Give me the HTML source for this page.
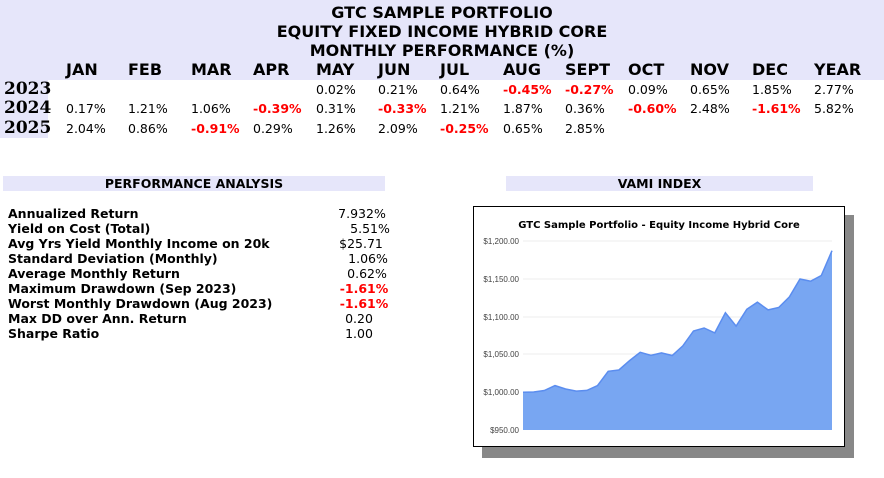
<!DOCTYPE html>
<html><head><meta charset="utf-8"><style>
body{margin:0;width:884px;height:478px;background:#fff;position:relative;overflow:hidden;font-family:"DejaVu Sans",Verdana,sans-serif;color:#000}
.a{position:absolute;white-space:nowrap}
.h{font-weight:bold;font-size:16px}
.v{font-size:12.5px}
.r{color:#f00;font-weight:bold}
.y{font-family:"DejaVu Serif","Liberation Serif",serif;font-weight:bold;font-size:17px}
.l{font-weight:bold;font-size:12.5px;left:8px}
.s{font-size:12.5px;width:80px;text-align:center;left:325px}
</style></head><body>
<div class="a" style="left:0;top:0;width:884px;height:80px;background:#e6e6fa"></div>
<div class="a" style="left:0;top:80px;width:48px;height:58px;background:#e6e6fa"></div>
<div class="a h" style="left:0;width:884px;text-align:center;top:3px">GTC SAMPLE PORTFOLIO</div>
<div class="a h" style="left:0;width:884px;text-align:center;top:22px">EQUITY FIXED INCOME HYBRID CORE</div>
<div class="a h" style="left:0;width:884px;text-align:center;top:41px">MONTHLY PERFORMANCE (%)</div>
<div class="a h" style="left:66px;top:60px">JAN</div>
<div class="a h" style="left:128px;top:60px">FEB</div>
<div class="a h" style="left:191px;top:60px">MAR</div>
<div class="a h" style="left:253px;top:60px">APR</div>
<div class="a h" style="left:316px;top:60px">MAY</div>
<div class="a h" style="left:378px;top:60px">JUN</div>
<div class="a h" style="left:440px;top:60px">JUL</div>
<div class="a h" style="left:503px;top:60px">AUG</div>
<div class="a h" style="left:565px;top:60px">SEPT</div>
<div class="a h" style="left:628px;top:60px">OCT</div>
<div class="a h" style="left:690px;top:60px">NOV</div>
<div class="a h" style="left:752px;top:60px">DEC</div>
<div class="a h" style="left:814px;top:60px">YEAR</div>

<div class="a y" style="left:4px;top:79px">2023</div>
<div class="a y" style="left:4px;top:98px">2024</div>
<div class="a y" style="left:4px;top:118px">2025</div>

<div class="a v" style="left:316px;top:82px">0.02%</div>
<div class="a v" style="left:378px;top:82px">0.21%</div>
<div class="a v" style="left:440px;top:82px">0.64%</div>
<div class="a v r" style="left:503px;top:82px">-0.45%</div>
<div class="a v r" style="left:565px;top:82px">-0.27%</div>
<div class="a v" style="left:628px;top:82px">0.09%</div>
<div class="a v" style="left:690px;top:82px">0.65%</div>
<div class="a v" style="left:752px;top:82px">1.85%</div>
<div class="a v" style="left:814px;top:82px">2.77%</div>

<div class="a v" style="left:66px;top:101px">0.17%</div>
<div class="a v" style="left:128px;top:101px">1.21%</div>
<div class="a v" style="left:191px;top:101px">1.06%</div>
<div class="a v r" style="left:253px;top:101px">-0.39%</div>
<div class="a v" style="left:316px;top:101px">0.31%</div>
<div class="a v r" style="left:378px;top:101px">-0.33%</div>
<div class="a v" style="left:440px;top:101px">1.21%</div>
<div class="a v" style="left:503px;top:101px">1.87%</div>
<div class="a v" style="left:565px;top:101px">0.36%</div>
<div class="a v r" style="left:628px;top:101px">-0.60%</div>
<div class="a v" style="left:690px;top:101px">2.48%</div>
<div class="a v r" style="left:752px;top:101px">-1.61%</div>
<div class="a v" style="left:814px;top:101px">5.82%</div>

<div class="a v" style="left:66px;top:121px">2.04%</div>
<div class="a v" style="left:128px;top:121px">0.86%</div>
<div class="a v r" style="left:191px;top:121px">-0.91%</div>
<div class="a v" style="left:253px;top:121px">0.29%</div>
<div class="a v" style="left:316px;top:121px">1.26%</div>
<div class="a v" style="left:378px;top:121px">2.09%</div>
<div class="a v r" style="left:440px;top:121px">-0.25%</div>
<div class="a v" style="left:503px;top:121px">0.65%</div>
<div class="a v" style="left:565px;top:121px">2.85%</div>

<div class="a" style="left:3px;top:176px;width:382px;height:15px;background:#e6e6fa;font-weight:bold;font-size:12.5px;text-align:center;line-height:15px">PERFORMANCE ANALYSIS</div>
<div class="a" style="left:506px;top:176px;width:307px;height:15px;background:#e6e6fa;font-weight:bold;font-size:12.5px;text-align:center;line-height:15px">VAMI INDEX</div>

<div class="a l" style="top:206px">Annualized Return</div><div class="a s" style="top:206px;left:322px">7.932%</div>
<div class="a l" style="top:221px">Yield on Cost (Total)</div><div class="a s" style="top:221px;left:330px">5.51%</div>
<div class="a l" style="top:236px">Avg Yrs Yield Monthly Income on 20k</div><div class="a s" style="top:236px;left:321px">$25.71</div>
<div class="a l" style="top:251px">Standard Deviation (Monthly)</div><div class="a s" style="top:251px;left:328px">1.06%</div>
<div class="a l" style="top:266px">Average Monthly Return</div><div class="a s" style="top:266px;left:327px">0.62%</div>
<div class="a l" style="top:281px">Maximum Drawdown (Sep 2023)</div><div class="a s r" style="top:281px;left:324px">-1.61%</div>
<div class="a l" style="top:296px">Worst Monthly Drawdown (Aug 2023)</div><div class="a s r" style="top:296px;left:324px">-1.61%</div>
<div class="a l" style="top:311px">Max DD over Ann. Return</div><div class="a s" style="top:311px;left:319px">0.20</div>
<div class="a l" style="top:326px">Sharpe Ratio</div><div class="a s" style="top:326px;left:319px">1.00</div>

<div class="a" style="left:482px;top:215px;width:372px;height:243px;background:#888"></div>
<svg class="a" style="left:0;top:0" width="884" height="478">
<rect x="473.5" y="206.5" width="371" height="240" fill="#fff" stroke="#000" stroke-width="1"/>
<text x="659" y="228" text-anchor="middle" font-family="DejaVu Sans,sans-serif" font-weight="bold" font-size="10">GTC Sample Portfolio - Equity Income Hybrid Core</text>
<g stroke="#eee" stroke-width="1">
<line x1="523" x2="832" y1="241" y2="241"/><line x1="523" x2="832" y1="279" y2="279"/><line x1="523" x2="832" y1="317" y2="317"/><line x1="523" x2="832" y1="354" y2="354"/><line x1="523" x2="832" y1="392" y2="392"/>
</g>
<g font-family="Liberation Sans,sans-serif" font-size="8" fill="#444" text-anchor="end">
<text x="519" y="244">$1,200.00</text><text x="519" y="282">$1,150.00</text><text x="519" y="320">$1,100.00</text><text x="519" y="357">$1,050.00</text><text x="519" y="395">$1,000.00</text><text x="519" y="433">$950.00</text>
</g>
<polygon fill="#78a6f2" points="523,430 523,392.2 533.7,392 544.3,390.5 555,385.6 565.6,389 576.3,391.1 586.9,390.4 597.6,385.5 608.2,371.3 618.9,370 629.6,360.6 640.2,352.3 650.9,355.4 661.5,352.9 672.2,355.5 682.8,345.9 693.5,331 704.1,328 714.8,332.9 725.4,312.7 736.1,326.1 746.8,309.3 757.4,302.2 768.1,309.9 778.7,307.5 789.4,296.9 800,279 810.7,281.2 821.3,275.5 832,250.7 832,430"/>
<polyline fill="none" stroke="#5b8def" stroke-width="1.5" points="523,392.2 533.7,392 544.3,390.5 555,385.6 565.6,389 576.3,391.1 586.9,390.4 597.6,385.5 608.2,371.3 618.9,370 629.6,360.6 640.2,352.3 650.9,355.4 661.5,352.9 672.2,355.5 682.8,345.9 693.5,331 704.1,328 714.8,332.9 725.4,312.7 736.1,326.1 746.8,309.3 757.4,302.2 768.1,309.9 778.7,307.5 789.4,296.9 800,279 810.7,281.2 821.3,275.5 832,250.7"/>
</svg>
</body></html>
